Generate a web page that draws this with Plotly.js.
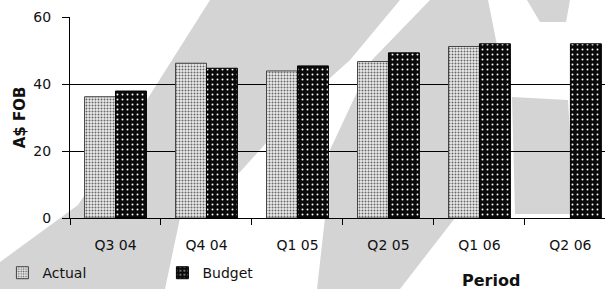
<!DOCTYPE html>
<html>
<head>
<meta charset="utf-8">
<script src="https://cdn.plot.ly/plotly-3.0.1.min.js"></script>
<style>html,body{margin:0;padding:0;background:#fff;}#chart{width:605px;height:289px;}</style>
</head>
<body>
<div id="chart"></div>
<script>
const categories = ['Q3 04', 'Q4 04', 'Q1 05', 'Q2 05', 'Q1 06', 'Q2 06'];
const actual = [36.2, 46.2, 43.9, 46.7, 51.2, null];
const budget = [37.9, 44.7, 45.4, 49.3, 52.0, 52.0];
const yTicks = [0, 20, 40, 60];

// decorative halftone bands of the scanned background (pixel coords)
const L = 70, R = 605, T = 17, B = 218;
function px2paper(pts) {
  return 'M' + pts.map(p => ((p[0] - L) / (R - L)).toFixed(4) + ',' + ((B - p[1]) / (B - T)).toFixed(4)).join('L') + 'Z';
}
const bands = [
  [[0,289],[165,289],[180,218],[240,172],[300,105],[350,60],[400,0],[210,0],[150,95],[78,205],[0,262]],
  [[317,289],[400,289],[455,218],[455,150],[500,60],[488,0],[430,0],[372,60],[330,150],[325,218]],
  [[512,97],[568,100],[575,214],[515,214]],
  [[527,0],[570,0],[566,22],[540,22]]
];
const shapes = bands.map(b => ({
  type: 'path', xref: 'paper', yref: 'paper', layer: 'below',
  path: px2paper(b), fillcolor: '#d4d4d4', line: {width: 0}
}));

const font = {family: 'DejaVu Sans, Arial, sans-serif', size: 14, color: '#111'};

const data = [
  {
    type: 'bar', name: 'Actual', x: categories, y: actual,
    marker: {
      color: '#ececec',
      line: {color: '#444', width: 1},
      pattern: {shape: '.', bgcolor: '#ececec', fgcolor: '#666', size: 3, solidity: 0.35}
    }
  },
  {
    type: 'bar', name: 'Budget', x: categories, y: budget,
    marker: {
      color: '#0a0a0a',
      line: {color: '#000', width: 1},
      pattern: {shape: '.', bgcolor: '#0a0a0a', fgcolor: '#ffffff', size: 5, solidity: 0.12}
    }
  }
];

const layout = {
  width: 605, height: 289,
  margin: {l: L, r: 0, t: T, b: 289 - B, pad: 0},
  paper_bgcolor: '#ffffff', plot_bgcolor: 'rgba(0,0,0,0)',
  font: font,
  barmode: 'group', bargap: 0.32, bargroupgap: 0,
  showlegend: true,
  legend: {
    orientation: 'h', xref: 'container', yref: 'container',
    x: 0.004, y: 0.055, xanchor: 'left', yanchor: 'middle',
    entrywidth: 115, entrywidthmode: 'pixels',
    bgcolor: 'rgba(0,0,0,0)', font: font, itemwidth: 30
  },
  xaxis: {
    type: 'category', range: [-0.5, 5.38],
    showline: true, linecolor: '#000', linewidth: 1,
    ticks: 'outside', tickson: 'boundaries', ticklen: 6, tickcolor: '#000', tickwidth: 1,
    showgrid: false, zeroline: false, tickfont: font, ticklabelstandoff: 14
  },
  yaxis: {
    range: [0, 60], tickvals: yTicks, ticktext: yTicks.map(String),
    showline: true, linecolor: '#000', linewidth: 1,
    ticks: 'outside', ticklen: 7, tickcolor: '#000', tickwidth: 1,
    showgrid: true, gridcolor: '#000', gridwidth: 1, zeroline: false,
    tickfont: font, ticklabelstandoff: 8,
    title: {text: 'A$ FOB', font: {family: 'DejaVu Sans, Arial, sans-serif', size: 15, weight: 'bold', color: '#111'}, standoff: 4}
  },
  shapes: shapes,
  annotations: [{
    text: 'Period', xref: 'paper', yref: 'paper',
    x: (491 - L) / (R - L), y: (B - 280) / (B - T), xanchor: 'center', yanchor: 'middle',
    showarrow: false, font: {family: 'DejaVu Sans, Arial, sans-serif', size: 16, weight: 'bold', color: '#111'}
  }]
};

Plotly.newPlot('chart', data, layout, {staticPlot: true, displayModeBar: false});
</script>
</body>
</html>
